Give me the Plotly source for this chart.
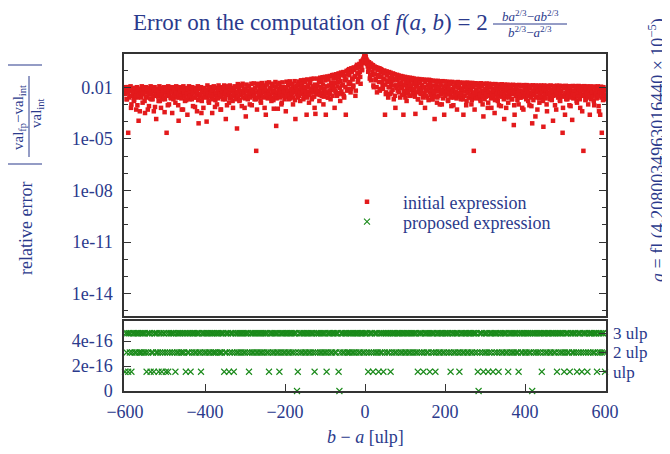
import plotly.graph_objects as go

# The page body has an 8 px margin, so the figure is laid out in page pixels
# and shifted back by that offset.
OFF = 8
W, H = 662, 446
ML, MT = 116, 46
PW, PH = 482, 337
MR = W - ML - PW
MB = H - MT - PH


def px(X):
    return (X - OFF - ML) / PW


def py(Y):
    return (H - MB - (Y - OFF)) / PH


# b - a in ulp
diff_even = list(range(-600, 601, 2))
diff_odd = list(range(-599, 600, 2))

# log10 of the relative error of the initial expression (even b - a)
initial_log10_even = [
    -2.0, -2.3, -2.7, -2.0, -4.65, -2.2, -2.5, -1.95, -3.0, -2.1, -2.4, -2.8, -2.05, -2.3, -3.3, -2.0, -2.6, -3.95, -2.2, -2.1,
    -2.4, -1.95, -2.9, -2.15, -2.3, -3.5, -2.0, -2.6, -2.2, -2.05, -3.1, -2.4, -1.95, -2.7, -2.25, -2.1, -3.4, -2.0, -2.5, -3.85,
    -2.1, -2.3, -2.8, -1.95, -2.2, -3.2, -2.05, -2.5, -2.3, -2.0, -2.7, -2.15, -4.65, -2.4, -1.95, -3.0, -2.2, -2.6, -2.05, -3.5,
    -2.0, -2.4, -2.2, -2.9, -1.95, -2.3, -2.1, -3.95, -2.6, -2.0, -2.35, -3.3, -2.1, -1.95, -2.5, -2.8, -2.2, -2.05, -3.6, -2.3,
    -1.95, -2.7, -2.15, -2.4, -2.0, -3.1, -2.3, -2.05, -2.6, -2.2, -3.4, -1.95, -4.1, -2.45, -2.1, -2.0, -2.8, -2.3, -3.2, -2.05,
    -2.2, -2.5, -4.0, -1.9, -2.3, -2.9, -2.1, -2.0, -2.6, -3.5, -2.15, -1.95, -2.4, -2.75, -2.05, -3.0, -2.3, -1.9, -2.55, -2.1,
    -3.3, -2.0, -2.4, -2.2, -1.9, -2.7, -3.85, -2.1, -2.35, -2.0, -2.9, -1.9, -2.25, -2.6, -2.05, -3.2, -2.15, -1.95, -2.5, -2.3,
    -4.4, -1.82, -2.2, -2.8, -1.9, -2.45, -3.1, -1.8, -2.3, -2.1, -2.65, -3.7, -1.85, -2.2, -2.5, -1.95, -3.0, -2.35, -1.8, -2.15,
    -2.4, -1.78, -2.7, -2.05, -5.7, -3.3, -1.8, -2.25, -2.55, -1.95, -2.9, -1.76, -2.3, -2.1, -2.6, -1.9, -3.6, -1.75, -2.4, -2.2,
    -1.72, -2.5, -2.05, -2.8, -1.8, -2.3, -3.25, -1.95, -1.7, -4.25, -2.4, -3.25, -2.1, -1.75, -2.6, -2.0, -2.9, -1.72, -2.3, -2.15,
    -2.0, -3.4, -1.68, -2.4, -1.9, -2.7, -1.66, -2.2, -2.5, -1.8, -3.0, -2.05, -1.65, -3.85, -2.3, -1.9, -2.6, -1.67, -2.2, -2.8,
    -1.6, -2.3, -2.0, -2.7, -1.58, -2.15, -2.45, -3.6, -1.55, -2.0, -2.9, -1.6, -2.3, -1.52, -2.6, -2.1, -1.5, -3.2, -3.55, -1.95,
    -2.4, -1.5, -2.2, -2.8, -1.45, -2.0, -2.5, -1.42, -3.0, -2.1, -1.4, -3.6, -2.3, -1.38, -2.6, -1.9, -1.35, -2.7, -2.15, -1.3,
    -1.9, -1.28, -3.2, -2.2, -1.25, -2.5, -1.7, -1.2, -2.35, -2.8, -1.15, -1.9, -2.4, -1.12, -2.6, -1.6, -3.6, -1.05, -2.1, -1.02,
    -0.95, -1.8, -2.3, -0.9, -1.5, -2.0, -0.85, -1.4, -2.5, -0.8, -0.7, -1.7, -1.2, -0.65, -1.4, -0.5, -1.0, -0.45, -0.35, -0.22,
    -0.1,
    -0.25, -0.4, -0.48, -1.1, -0.55, -1.5, -0.62, -0.68, -1.3, -0.72, -2.0, -0.8, -1.6, -0.84, -2.3, -0.88, -1.3, -0.9, -2.1, -0.95,
    -1.0, -1.9, -1.5, -1.03, -3.6, -2.4, -1.08, -1.7, -2.6, -1.12, -2.0, -1.16, -2.3, -1.6, -1.2, -2.7, -1.25, -3.2, -1.9, -1.28,
    -2.2, -1.32, -1.8, -2.6, -1.35, -2.0, -1.38, -3.6, -2.4, -1.4, -1.9, -2.8, -1.43, -2.1, -1.8, -1.45, -2.5, -2.0, -1.47, -2.3,
    -1.5, -2.4, -3.55, -1.9, -1.52, -2.7, -2.1, -1.53, -2.3, -2.9, -1.55, -2.0, -2.5, -1.56, -3.2, -2.2, -1.58, -2.6, -1.9, -1.57,
    -2.3, -1.6, -2.0, -2.7, -1.62, -2.4, -3.85, -1.64, -2.1, -2.9, -1.63, -2.5, -2.0, -1.66, -2.3, -3.0, -1.65, -2.2, -3.6, -1.67,
    -2.4, -2.0, -1.68, -2.8, -2.2, -1.7, -2.5, -3.1, -1.69, -2.1, -2.6, -1.72, -2.3, -1.9, -3.3, -1.7, -2.45, -2.05, -1.73, -2.7,
    -2.2, -1.74, -3.6, -2.5, -1.75, -2.0, -2.8, -1.73, -2.3, -2.1, -1.76, -2.6, -3.0, -1.75, -2.35, -5.7, -3.3, -1.77, -2.15, -2.5,
    -1.78, -2.3, -2.0, -2.7, -1.77, -2.4, -3.0, -3.7, -1.8, -2.2, -2.55, -1.79, -2.1, -2.9, -1.8, -2.35, -2.0, -3.2, -1.82, -2.6,
    -2.1, -3.5, -1.82, -2.4, -2.2, -2.8, -1.84, -2.0, -2.5, -3.1, -1.83, -2.3, -2.1, -3.85, -1.85, -2.6, -2.2, -1.86, -2.9, -2.05,
    -1.87, -2.4, -2.2, -2.7, -1.86, -4.2, -3.6, -2.1, -1.88, -2.5, -2.3, -3.0, -1.87, -2.2, -2.6, -1.9, -2.35, -3.3, -1.88, -2.1,
    -2.5, -1.88, -2.2, -2.8, -2.0, -1.9, -2.4, -3.1, -4.1, -1.89, -2.3, -2.1, -3.7, -1.9, -2.6, -2.05, -1.92, -2.9, -2.3, -1.9,
    -2.2, -2.6, -4.3, -1.9, -2.1, -2.4, -3.0, -1.92, -2.3, -2.0, -2.7, -1.9, -2.2, -2.5, -3.95, -1.93, -2.35, -2.1, -3.3, -1.91,
    -2.4, -2.1, -1.92, -2.8, -2.2, -1.93, -4.65, -2.5, -2.0, -3.6, -1.92, -2.3, -2.7, -2.05, -1.94, -2.4, -3.1, -2.2, -3.9, -1.93,
    -2.3, -2.6, -1.94, -2.1, -2.9, -2.4, -1.93, -2.2, -3.2, -1.95, -2.5, -2.0, -5.7, -1.94, -2.3, -2.7, -2.1, -1.95, -3.0, -2.4,
    -3.6, -1.95, -2.2, -2.5, -2.0, -2.8, -1.96, -2.3, -2.1, -2.6, -1.95, -3.1, -2.2, -3.6, -1.97, -4.65, -2.4, -2.0, -2.7, -2.1,
]

# log10 of the relative error of the initial expression (odd b - a)
initial_log10_odd = [
    -2.4, -2.1, -2.7, -2.3, -2.0, -2.6, -2.2, -3.2, -2.5, -2.15, -2.35, -2.75, -2.05, -2.5, -2.25, -3.05, -2.1, -2.45, -3.4, -2.3,
    -2.6, -2.2, -2.4, -2.05, -2.8, -2.3, -2.55, -2.1, -3.3, -2.4, -2.2, -2.65, -2.35, -2.0, -2.7, -2.5, -2.15, -3.15, -2.3, -2.45,
    -2.2, -2.55, -2.35, -2.8, -2.05, -2.45, -2.7, -2.2, -2.6, -3.45, -2.3, -2.1, -2.5, -3.05, -2.25, -2.4, -2.0, -2.65, -2.3, -2.55,
    -2.7, -2.15, -2.45, -2.3, -2.6, -2.05, -3.05, -2.4, -2.2, -2.5, -2.65, -2.1, -3.3, -2.35, -2.55, -2.2, -2.75, -2.4, -2.1, -2.6,
    -2.3, -2.5, -2.05, -2.7, -2.35, -2.2, -2.6, -3.15, -2.15, -2.45, -2.3, -2.75, -2.0, -2.55, -2.4, -3.5, -2.25, -2.6, -2.1, -2.5,
    -2.35, -2.15, -2.6, -2.4, -2.8, -2.05, -2.5, -2.3, -2.2, -2.7, -2.45, -2.0, -3.15, -2.35, -2.55, -2.2, -2.65, -2.1, -2.4, -3.3,
    -2.5, -2.2, -2.7, -2.05, -2.4, -2.6, -2.25, -3.05, -1.95, -2.45, -2.3, -2.65, -2.1, -2.5, -2.8, -2.2, -2.4, -2.0, -2.7, -2.35,
    -2.3, -2.55, -2.0, -2.75, -2.2, -2.45, -1.9, -2.6, -2.35, -3.2, -2.1, -2.5, -2.25, -2.7, -1.95, -2.4, -2.6, -2.15, -3.05, -2.3,
    -2.2, -2.5, -2.05, -2.7, -2.3, -1.9, -2.6, -2.4, -2.15, -2.8, -2.35, -2.0, -2.55, -2.25, -3.2, -2.1, -2.45, -1.85, -2.65, -2.3,
    -2.45, -2.1, -2.6, -1.9, -2.35, -2.75, -2.2, -2.5, -2.0, -2.65, -2.3, -1.85, -2.55, -2.4, -2.15, -3.0, -2.05, -2.5, -2.25, -2.7,
    -2.3, -2.0, -2.55, -2.2, -1.8, -2.45, -2.65, -2.1, -2.35, -1.9, -2.6, -2.25, -2.75, -2.0, -2.4, -2.15, -1.85, -2.5, -2.3, -2.05,
    -2.4, -1.8, -2.2, -2.5, -2.0, -1.7, -2.35, -2.6, -1.9, -2.25, -2.45, -1.75, -2.1, -2.7, -1.95, -2.3, -2.55, -1.85, -2.15, -2.4,
    -1.9, -2.25, -1.7, -2.45, -2.05, -1.65, -2.3, -1.85, -2.55, -2.1, -1.6, -2.35, -1.95, -2.6, -1.55, -2.2, -2.4, -1.75, -2.0, -2.5,
    -1.5, -2.1, -1.75, -2.3, -1.45, -1.95, -2.4, -1.4, -2.05, -1.65, -2.25, -1.3, -1.85, -2.5, -1.35, -2.0, -1.55, -2.2, -1.25, -1.8,
    -1.3, -1.7, -2.1, -1.1, -1.55, -1.9, -1.0, -1.35, -2.2, -0.9, -1.2, -1.5, -0.85, -1.1, -1.8, -0.75, -1.0, -0.6, -0.5, -0.2,
    -0.2, -0.5, -0.65, -0.8, -1.0, -0.75, -1.3, -1.6, -0.85, -1.1, -1.9, -0.9, -1.25, -1.5, -2.0, -1.0, -1.4, -1.7, -2.2, -1.15,
    -1.4, -1.7, -2.1, -1.2, -1.55, -1.85, -2.3, -1.3, -1.65, -2.0, -1.45, -2.4, -1.75, -1.35, -2.15, -1.6, -1.9, -2.5, -1.5, -2.05,
    -1.6, -1.9, -2.3, -1.5, -2.05, -1.75, -2.45, -1.55, -2.2, -1.85, -2.6, -1.65, -2.0, -2.35, -1.7, -2.5, -1.9, -2.15, -1.6, -2.4,
    -1.8, -2.1, -2.55, -1.7, -2.3, -1.95, -2.7, -2.05, -1.75, -2.4, -2.2, -1.85, -2.6, -2.0, -2.35, -1.7, -2.5, -2.15, -1.9, -2.75,
    -2.05, -1.8, -2.45, -2.2, -2.7, -1.9, -2.35, -2.55, -2.0, -1.75, -2.6, -2.25, -2.05, -3.0, -1.85, -2.4, -2.15, -2.65, -1.95, -2.3,
    -2.5, -1.9, -2.2, -2.75, -2.05, -2.4, -1.8, -2.6, -2.3, -2.1, -3.05, -1.95, -2.45, -2.25, -2.65, -2.0, -2.35, -1.85, -2.55, -2.2,
    -2.4, -2.1, -2.7, -1.9, -2.5, -2.25, -3.05, -2.05, -2.35, -2.6, -1.95, -2.45, -2.2, -2.75, -2.0, -2.5, -2.3, -1.9, -2.65, -2.15,
    -2.35, -2.6, -2.0, -2.45, -2.8, -2.2, -1.95, -2.55, -2.3, -2.7, -2.1, -2.4, -2.0, -3.2, -2.25, -2.5, -1.95, -2.65, -2.35, -2.15,
    -2.5, -2.2, -2.75, -2.0, -2.4, -2.6, -2.15, -3.05, -2.3, -2.05, -2.55, -2.35, -1.95, -2.7, -2.45, -2.2, -3.2, -2.1, -2.5, -2.3,
    -2.6, -2.25, -2.0, -2.7, -2.4, -2.15, -3.05, -2.3, -2.5, -2.05, -2.75, -2.35, -2.2, -2.6, -1.95, -2.45, -3.2, -2.25, -2.55, -2.1,
    -2.4, -2.7, -2.15, -2.5, -2.3, -3.05, -2.05, -2.6, -2.35, -2.2, -2.75, -2.45, -2.0, -2.55, -2.3, -3.3, -2.2, -2.65, -2.4, -2.1,
    -2.55, -2.3, -2.8, -2.1, -2.45, -2.65, -2.2, -3.4, -2.35, -2.05, -2.6, -2.4, -2.15, -2.75, -2.3, -2.5, -2.0, -3.05, -2.25, -2.45,
    -2.3, -2.6, -2.1, -2.75, -2.4, -2.2, -2.55, -3.2, -2.05, -2.45, -2.35, -2.7, -2.15, -2.5, -2.3, -3.05, -2.0, -2.6, -2.25, -2.4,
    -2.65, -2.2, -2.45, -2.0, -2.8, -2.35, -2.55, -2.1, -2.7, -2.3, -2.45, -3.4, -2.15, -2.5, -2.25, -2.75, -2.05, -2.4, -2.6, -2.2,
    -2.45, -2.1, -2.7, -2.3, -2.55, -2.0, -3.05, -2.25, -2.4, -2.65, -2.15, -2.5, -3.4, -2.3, -2.05, -2.6, -2.35, -2.75, -2.2, -2.45,
]

# error of the proposed expression, in ulp of the result (even b - a)
proposed_ulp = [
    1, 3, 2, 3, 1, 3, 2, 3, 1, 2, 3, 3, 2, 3, 2, 3, 3, 2, 3, 2,
    3, 2, 3, 3, 2, 3, 2, 1, 3, 2, 3, 3, 1, 2, 3, 2, 1, 3, 3, 2,
    3, 2, 1, 3, 2, 3, 1, 2, 3, 3, 2, 1, 3, 2, 1, 3, 2, 3, 3, 2,
    3, 3, 2, 1, 3, 2, 3, 2, 3, 3, 2, 3, 2, 3, 2, 3, 1, 3, 2, 3,
    2, 3, 1, 3, 2, 3, 3, 2, 3, 2, 3, 3, 2, 3, 2, 1, 3, 2, 3, 3,
    2, 3, 2, 3, 3, 2, 3, 2, 3, 3, 2, 3, 2, 3, 2, 3, 3, 2, 3, 2,
    3, 2, 3, 3, 1, 2, 3, 2, 3, 3, 1, 2, 3, 3, 2, 3, 1, 2, 3, 3,
    2, 3, 2, 3, 3, 2, 3, 3, 2, 3, 2, 3, 3, 2, 3, 1, 2, 3, 3, 2,
    3, 2, 3, 3, 2, 3, 2, 3, 3, 2, 3, 2, 3, 3, 2, 3, 3, 2, 3, 2,
    1, 3, 2, 3, 3, 2, 3, 2, 3, 3, 2, 3, 2, 1, 3, 2, 3, 3, 2, 3,
    2, 3, 3, 2, 3, 2, 3, 3, 2, 3, 2, 3, 3, 2, 3, 0, 1, 2, 3, 3,
    2, 3, 2, 3, 3, 2, 3, 2, 3, 3, 2, 3, 2, 3, 3, 2, 3, 1, 2, 3,
    3, 2, 3, 3, 2, 3, 2, 3, 3, 2, 3, 2, 1, 3, 2, 3, 3, 2, 3, 2,
    3, 3, 2, 3, 2, 3, 3, 1, 0, 2, 3, 3, 2, 3, 2, 3, 3, 2, 3, 2,
    3, 2, 3, 3, 2, 3, 2, 3, 3, 2, 3, 3, 2, 3, 2, 3, 3, 2, 3, 2,
    3,
    3, 2, 3, 1, 2, 3, 3, 2, 3, 1, 2, 3, 3, 2, 3, 2, 1, 3, 2, 3,
    2, 3, 1, 3, 2, 3, 3, 2, 3, 2, 3, 1, 3, 2, 3, 3, 2, 3, 2, 3,
    3, 2, 3, 3, 2, 3, 2, 3, 3, 2, 3, 2, 3, 3, 2, 3, 2, 3, 3, 2,
    3, 3, 2, 3, 2, 1, 3, 2, 3, 3, 2, 3, 1, 2, 3, 3, 2, 3, 2, 3,
    1, 3, 2, 3, 3, 2, 3, 1, 2, 3, 3, 2, 3, 2, 3, 3, 2, 3, 2, 3,
    3, 2, 3, 3, 2, 3, 1, 2, 3, 3, 2, 3, 2, 3, 3, 2, 3, 1, 2, 3,
    3, 2, 3, 2, 3, 3, 2, 3, 2, 3, 3, 2, 3, 2, 3, 3, 2, 3, 3, 2,
    1, 0, 3, 2, 3, 3, 2, 1, 3, 2, 3, 2, 3, 1, 2, 3, 3, 2, 3, 1,
    3, 2, 3, 3, 2, 3, 1, 2, 3, 3, 2, 3, 2, 3, 3, 2, 3, 2, 1, 3,
    2, 3, 3, 2, 3, 2, 3, 3, 2, 3, 2, 1, 3, 3, 2, 3, 2, 3, 3, 2,
    3, 2, 3, 3, 2, 3, 2, 3, 0, 3, 2, 3, 3, 2, 3, 2, 3, 3, 2, 3,
    1, 3, 2, 3, 3, 2, 3, 2, 3, 3, 2, 3, 2, 3, 3, 2, 3, 2, 3, 1,
    3, 2, 3, 3, 2, 3, 2, 3, 1, 2, 3, 3, 2, 3, 2, 1, 3, 3, 2, 3,
    2, 3, 3, 2, 1, 3, 2, 3, 3, 2, 1, 3, 2, 3, 3, 2, 3, 1, 2, 3,
    3, 2, 3, 3, 2, 3, 2, 3, 3, 1, 2, 3, 3, 2, 3, 2, 3, 3, 2, 1,
]

ulp_relative = 1.54e-16  # one ulp expressed as a relative error
x_ticks = [-600, -400, -200, 0, 200, 400, 600]
top_tickvals = [1e-14, 1e-11, 1e-8, 1e-5, 1e-2]
top_ticktext = ["1e-14", "1e-11", "1e-08", "1e-05", "0.01"]
bottom_tickvals = [0, 2e-16, 4e-16]
bottom_ticktext = ["0", "2e-16", "4e-16"]
ulp_tickvals = [ulp_relative, 2 * ulp_relative, 3 * ulp_relative]
ulp_ticktext = ["ulp", "2 ulp", "3 ulp"]

assert len(initial_log10_even) == len(diff_even)
assert len(initial_log10_odd) == len(diff_odd)
assert len(proposed_ulp) == len(diff_even)

initial_x = diff_even + diff_odd
initial_err = [10 ** v for v in initial_log10_even + initial_log10_odd]
proposed_err = [k * ulp_relative for k in proposed_ulp]

FONT = "Liberation Serif, Times New Roman, serif"
BLUE = "#2b3a8c"
RED = "#e31a1c"
GREEN = "#1a8a1a"
FRAME = "#333333"

fig = go.Figure()
fig.add_trace(go.Scatter(
    x=initial_x, y=initial_err, mode="markers", name="initial expression",
    marker=dict(symbol="square", size=4.5, color=RED, line=dict(width=0)),
    xaxis="x", yaxis="y", cliponaxis=False, legend="legend",
))
fig.add_trace(go.Scatter(
    x=diff_even, y=proposed_err, mode="markers", name="proposed expression",
    marker=dict(symbol="x-thin", size=6, color=GREEN, line=dict(width=1.1, color=GREEN)),
    xaxis="x2", yaxis="y2", cliponaxis=False, legend="legend2",
))
# invisible trace that carries the right-hand ulp axis
fig.add_trace(go.Scatter(
    x=[0], y=[ulp_relative], mode="markers", marker=dict(opacity=0),
    xaxis="x2", yaxis="y3", showlegend=False, hoverinfo="skip",
))

xr = [-602.5, 602.5]
tickfont = dict(family=FONT, size=18, color=BLUE)
legend_common = dict(
    xanchor="left", yanchor="middle", bgcolor="rgba(0,0,0,0)", borderwidth=0,
    font=dict(family=FONT, size=18, color=BLUE), itemwidth=62,
)

fig.update_layout(
    width=W, height=H,
    margin=dict(l=ML, r=MR, t=MT, b=MB, pad=0),
    paper_bgcolor="white", plot_bgcolor="white",
    font=dict(family=FONT, size=18, color=BLUE),
    showlegend=True,
    legend=dict(x=px(331), y=py(202), **legend_common),
    legend2=dict(x=px(331), y=py(222), **legend_common),
    xaxis=dict(
        domain=[0, 1], range=xr, anchor="y", showticklabels=False, ticks="",
        showgrid=False, zeroline=False, showline=True, linecolor=FRAME,
        linewidth=1.5, mirror=True,
    ),
    yaxis=dict(
        domain=[py(316), 1], type="log", range=[-15.3, -0.07], anchor="x",
        tickmode="array", tickvals=top_tickvals, ticktext=top_ticktext,
        ticks="inside", ticklen=7, tickwidth=1, tickcolor=FRAME,
        minor=dict(tickmode="array",
                   tickvals=[10.0 ** k for k in range(-15, 0)],
                   ticks="inside", ticklen=4, tickcolor=FRAME),
        showgrid=False, zeroline=False, showline=True, linecolor=FRAME,
        linewidth=1.5, mirror="ticks", tickfont=tickfont, ticklabelstandoff=6,
    ),
    xaxis2=dict(
        domain=[0, 1], range=xr, anchor="y2", tickmode="array",
        tickvals=x_ticks, ticks="inside", ticklen=7, tickcolor=FRAME,
        showgrid=False, zeroline=False, showline=True, linecolor=FRAME,
        linewidth=1.5, mirror=True, tickfont=tickfont, ticklabelstandoff=4,
    ),
    yaxis2=dict(
        domain=[0, py(321)], range=[0, 5.6e-16], anchor="x2",
        tickmode="array", tickvals=bottom_tickvals, ticktext=bottom_ticktext,
        ticks="inside", ticklen=7, tickcolor=FRAME,
        showgrid=False, zeroline=False, showline=True, linecolor=FRAME,
        linewidth=1.5, mirror=True, tickfont=tickfont, ticklabelstandoff=6,
    ),
    yaxis3=dict(
        overlaying="y2", side="right", anchor="x2", range=[0, 5.6e-16],
        tickmode="array", tickvals=ulp_tickvals, ticktext=ulp_ticktext,
        ticks="inside", ticklen=7, tickcolor=FRAME,
        showgrid=False, zeroline=False, showline=False,
        tickfont=dict(family=FONT, size=17, color=BLUE), ticklabelstandoff=6,
    ),
)

ann = []
# title
ann.append(dict(
    x=px(490), y=py(22), xref="paper", yref="paper", xanchor="right", yanchor="middle",
    text="Error on the computation of <i>f</i>(<i>a</i>, <i>b</i>) = 2",
    showarrow=False, font=dict(family=FONT, size=23, color=BLUE),
))
ann.append(dict(
    x=px(530), y=py(16), xref="paper", yref="paper", xanchor="center", yanchor="middle",
    text="<i>ba</i><sup>2/3</sup>−<i>ab</i><sup>2/3</sup>",
    showarrow=False, font=dict(family=FONT, size=13, color=BLUE),
))
ann.append(dict(
    x=px(530), y=py(32), xref="paper", yref="paper", xanchor="center", yanchor="middle",
    text="<i>b</i><sup>2/3</sup>−<i>a</i><sup>2/3</sup>",
    showarrow=False, font=dict(family=FONT, size=13, color=BLUE),
))
# y axis labels
ann.append(dict(
    x=px(26), y=py(229), xref="paper", yref="paper", xanchor="center", yanchor="middle",
    text="relative error", textangle=-90,
    showarrow=False, font=dict(family=FONT, size=18, color=BLUE),
))
ann.append(dict(
    x=px(19), y=py(118), xref="paper", yref="paper", xanchor="center", yanchor="middle",
    text="val<sub>fp</sub>−val<sub>int</sub>", textangle=-90,
    showarrow=False, font=dict(family=FONT, size=15, color=BLUE),
))
ann.append(dict(
    x=px(37), y=py(114), xref="paper", yref="paper", xanchor="center", yanchor="middle",
    text="val<sub>int</sub>", textangle=-90,
    showarrow=False, font=dict(family=FONT, size=15, color=BLUE),
))
# right-hand label
ann.append(dict(
    x=px(657), y=py(150), xref="paper", yref="paper", xanchor="center", yanchor="middle",
    text="<i>a</i> = fl (4.2080034963016440 × 10<sup>−5</sup>)", textangle=-90,
    showarrow=False, font=dict(family=FONT, size=18, color=BLUE),
))
# x axis label
ann.append(dict(
    x=px(365), y=py(437), xref="paper", yref="paper", xanchor="center", yanchor="middle",
    text="<i>b</i> − <i>a</i> [ulp]",
    showarrow=False, font=dict(family=FONT, size=18, color=BLUE),
))
fig.update_layout(annotations=ann)

shapes = [
    # title fraction bar
    dict(type="line", xref="paper", yref="paper", x0=px(493), x1=px(567), y0=py(24), y1=py(24),
         line=dict(color=BLUE, width=1)),
    # y label fraction bar
    dict(type="line", xref="paper", yref="paper", x0=px(29), x1=px(29), y0=py(76), y1=py(157),
         line=dict(color=BLUE, width=1)),
    # absolute value bars (rotated)
    dict(type="line", xref="paper", yref="paper", x0=px(8), x1=px(42), y0=py(65), y1=py(65),
         line=dict(color=BLUE, width=1.2)),
    dict(type="line", xref="paper", yref="paper", x0=px(8), x1=px(42), y0=py(164), y1=py(164),
         line=dict(color=BLUE, width=1.2)),
]
fig.update_layout(shapes=shapes)

fig.write_html("out.html")
